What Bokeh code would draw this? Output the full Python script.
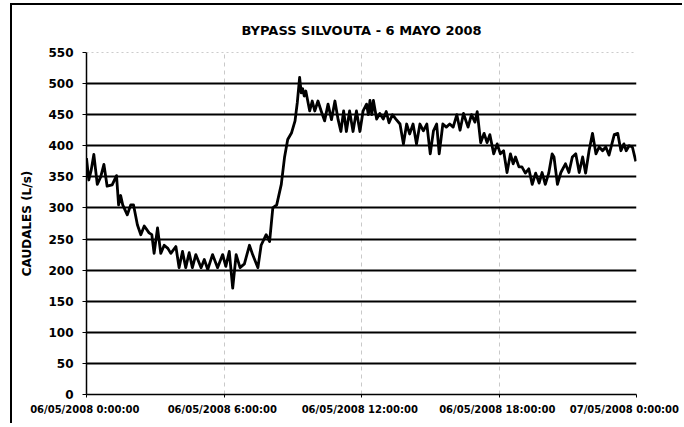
from bokeh.plotting import figure
from bokeh.models import FixedTicker, Span, Range1d
from bokeh.embed import file_html
from bokeh.resources import INLINE

title_text = "BYPASS SILVOUTA - 6 MAYO 2008"
y_label = "CAUDALES (L/s)"

hours = [0.00, 0.10, 0.20, 0.32, 0.47, 0.62, 0.76, 0.90, 1.12, 1.31, 1.40, 1.49, 1.58, 1.78, 1.93,
         2.05, 2.22, 2.37, 2.52, 2.73, 2.85, 2.95, 3.10, 3.24, 3.39, 3.55, 3.68, 3.90, 4.04, 4.19,
         4.33, 4.48, 4.62, 4.77, 5.00, 5.14, 5.29, 5.50, 5.72, 5.94, 6.08, 6.23, 6.38, 6.53, 6.70,
         6.89, 7.11, 7.25, 7.48, 7.62, 7.84, 7.99, 8.13, 8.30, 8.50, 8.64, 8.78, 8.95, 9.10, 9.20,
         9.30, 9.37, 9.43, 9.50, 9.57, 9.74, 9.85, 9.96, 10.10, 10.24, 10.39, 10.54, 10.69, 10.84,
         10.98, 11.10, 11.22, 11.34, 11.48, 11.63, 11.78, 11.93, 12.07, 12.22, 12.30, 12.37, 12.45,
         12.52, 12.66, 12.80, 12.95, 13.08, 13.20, 13.35, 13.50, 13.68, 13.83, 13.97, 14.10, 14.25,
         14.40, 14.55, 14.70, 14.85, 15.00, 15.14, 15.28, 15.39, 15.55, 15.70, 15.85, 16.00, 16.16,
         16.30, 16.45, 16.65, 16.80, 16.95, 17.05, 17.20, 17.35, 17.48, 17.60, 17.77, 17.92, 18.06,
         18.20, 18.35, 18.50, 18.62, 18.72, 18.87, 19.00, 19.15, 19.30, 19.45, 19.60, 19.75, 19.88,
         20.02, 20.17, 20.32, 20.40, 20.55, 20.70, 20.90, 21.05, 21.20, 21.35, 21.50, 21.65, 21.78,
         21.93, 22.08, 22.23, 22.37, 22.52, 22.66, 22.80, 23.03, 23.18, 23.32, 23.45, 23.55, 23.68,
         23.82, 23.97]

caudal = [380, 345, 360, 386, 338, 350, 370, 335, 337, 352, 305, 320, 305, 289, 305,
          305, 273, 257, 271, 260, 257, 227, 268, 227, 240, 235, 227, 238, 204, 230,
          204, 228, 204, 225, 204, 217, 201, 225, 204, 225, 206, 230, 171, 225, 204,
          210, 240, 225, 204, 240, 257, 246, 300, 305, 338, 381, 410, 421, 440, 470,
          510, 485, 492, 480, 488, 456, 472, 456, 472, 456, 440, 467, 442, 472,
          442, 423, 456, 423, 456, 423, 456, 423, 456, 467, 450, 473, 450,
          473, 443, 452, 443, 455, 437, 450, 443, 435, 403, 435, 419, 435,
          403, 435, 424, 435, 387, 424, 435, 387, 435, 430, 435, 430, 450,
          425, 452, 430, 450, 438, 455, 405, 420, 405, 418, 387, 403, 387,
          392, 357, 387, 371, 382, 366, 366, 356, 363, 338, 356, 340, 357,
          338, 356, 387, 382, 338, 357, 371, 357, 382, 387, 357, 382, 356,
          392, 420, 387, 398, 392, 398, 385, 418, 420, 392, 403, 392, 400,
          398, 375]

x_ticks = [0, 6, 12, 18, 24]
x_tick_labels = ["06/05/2008  0:00:00", "06/05/2008  6:00:00", "06/05/2008  12:00:00",
                 "06/05/2008  18:00:00", "07/05/2008  0:00:00"]
y_ticks = [0, 50, 100, 150, 200, 250, 300, 350, 400, 450, 500, 550]
y_grid_ticks = [50, 100, 150, 200, 250, 300, 350, 400, 450, 500]

FONT = "DejaVu Sans"

p = figure(width=672, height=420, output_backend="svg", toolbar_location=None,
           x_range=Range1d(0, 24), y_range=Range1d(0, 550),
           min_border_left=74, min_border_right=48, min_border_top=46, min_border_bottom=31,
           title=title_text)
p.margin = (3, 0, 0, 10)
p.styles = {"border-left": "2px solid black", "border-top": "2px solid black"}

p.title.align = "center"
p.title.text_font = FONT
p.title.text_font_size = "13px"
p.title.text_font_style = "bold"
p.title.text_color = "black"
p.title.standoff = 30

p.outline_line_color = None
p.background_fill_color = "white"
p.border_fill_color = "white"

# horizontal grid: thick black lines
p.ygrid.ticker = FixedTicker(ticks=y_grid_ticks)
p.ygrid.grid_line_color = "black"
p.ygrid.grid_line_width = 2

# vertical grid: faint dashed
p.xgrid.ticker = FixedTicker(ticks=[6, 12, 18, 24])
p.xgrid.grid_line_color = "#888888"
p.xgrid.grid_line_width = 1
p.xgrid.grid_line_dash = "4 4"
p.xgrid.grid_line_alpha = 0.45

top_line = Span(location=550, dimension="width", line_color="#999999",
                line_width=1, line_dash="2 3")
p.add_layout(top_line)

p.line(hours, caudal, line_color="black", line_width=2.8, line_join="round")

# y axis
p.yaxis.ticker = FixedTicker(ticks=y_ticks)
p.yaxis.axis_label = y_label
p.yaxis.axis_label_text_font = FONT
p.yaxis.axis_label_text_font_size = "12px"
p.yaxis.axis_label_text_font_style = "bold"
p.yaxis.axis_label_text_color = "black"
p.yaxis.axis_label_standoff = 11
p.yaxis.major_label_text_font = FONT
p.yaxis.major_label_text_font_size = "12px"
p.yaxis.major_label_text_font_style = "bold"
p.yaxis.major_label_text_color = "black"
p.yaxis.major_label_standoff = 9
p.yaxis.axis_line_color = "black"
p.yaxis.axis_line_width = 1.5
p.yaxis.major_tick_line_color = "black"
p.yaxis.major_tick_out = 4
p.yaxis.major_tick_in = 0
p.yaxis.minor_tick_line_color = None

# x axis
p.xaxis.ticker = FixedTicker(ticks=x_ticks)
p.xaxis.major_label_overrides = {t: l for t, l in zip(x_ticks, x_tick_labels)}
p.xaxis.major_label_text_font = FONT
p.xaxis.major_label_text_font_size = "10px"
p.xaxis.major_label_text_font_style = "bold"
p.xaxis.major_label_text_color = "black"
p.xaxis.major_label_standoff = 6
p.xaxis.axis_line_color = "black"
p.xaxis.axis_line_width = 1.5
p.xaxis.major_tick_line_color = "black"
p.xaxis.major_tick_out = 3
p.xaxis.major_tick_in = 0
p.xaxis.minor_tick_line_color = None

open("out.html", "w").write(file_html(p, INLINE))
